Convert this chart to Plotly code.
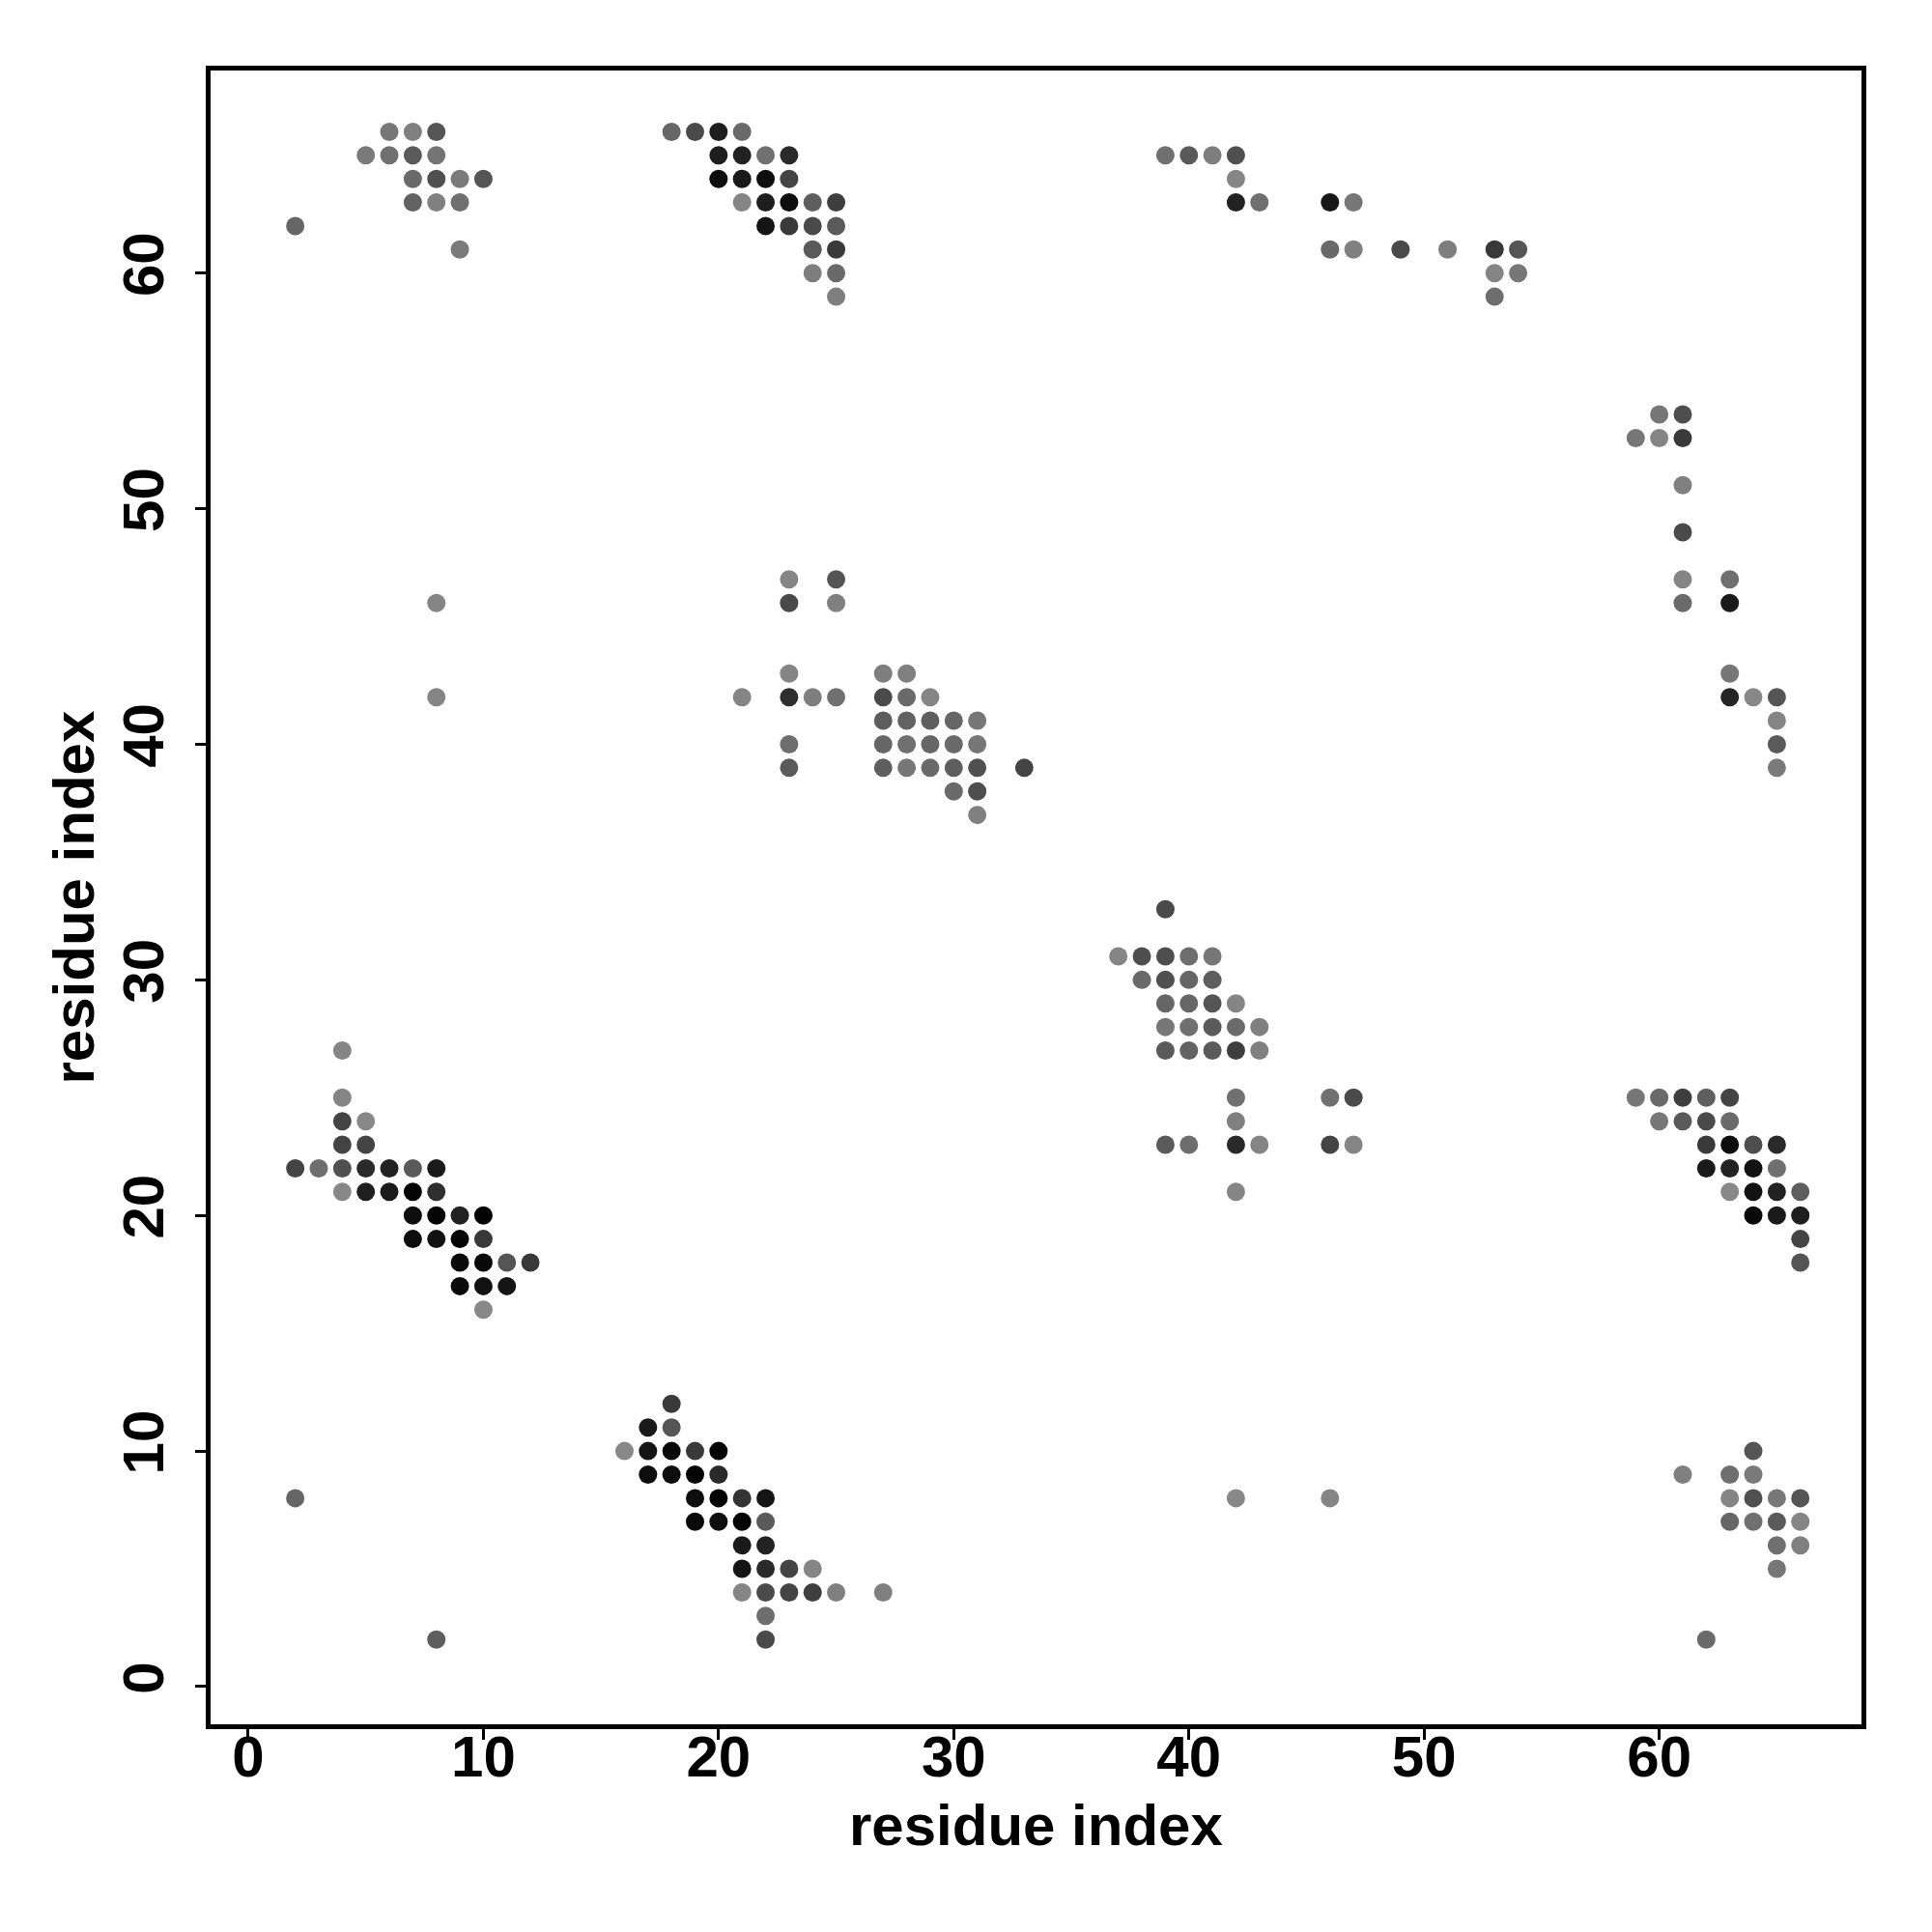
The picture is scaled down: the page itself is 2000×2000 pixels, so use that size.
import plotly.graph_objects as go

# Contact map: (residue i, residue j, level) ; level = grey level read (0 = black, 140 = light grey)
top_left = [(6,66,119),(7,66,128),(8,66,85),
            (5,65,122),(6,65,112),(7,65,90),(8,65,116),
            (7,64,106),(8,64,80),(9,64,122),(10,64,85),
            (7,63,98),(8,63,128),(9,63,112),
            (2,62,102),(9,61,122)]
top_mid = [(18,66,102),(19,66,74),(20,66,30),(21,66,106),
           (20,65,30),(21,65,34),(22,65,112),(23,65,42),
           (20,64,14),(21,64,26),(22,64,14),(23,64,68),
           (21,63,133),(22,63,30),(23,63,14),(24,63,94),(25,63,62),
           (22,62,21),(23,62,58),(24,62,74),(25,62,90),
           (24,61,90),(25,61,58),(24,60,126),(25,60,106),(25,59,126)]
top_right = [(39,65,112),(40,65,90),(41,65,126),(42,65,80),
             (42,64,134),
             (42,63,34),(43,63,112),(46,63,24),(47,63,119),
             (46,61,106),(47,61,128),(49,61,74),(51,61,126),(53,61,56),(54,61,85),
             (53,60,133),(54,60,119),(53,59,110)]
right_upper = [(60,54,119),(61,54,78),
               (59,53,119),(60,53,133),(61,53,58),
               (61,51,128),(61,49,74),
               (61,47,133),(63,47,112),
               (61,46,106),(63,46,26),
               (63,43,119),
               (63,42,37),(64,42,136),(65,42,85),
               (65,41,133),(65,40,90),(65,39,122)]
middle = [(8,46,133),(8,42,133),
          (23,47,133),(25,47,85),
          (23,46,74),(25,46,128),
          (23,43,133),(27,43,126),(28,43,128),
          (21,42,133),(23,42,46),(24,42,126),(25,42,112),(27,42,74),(28,42,106),(29,42,133),
          (27,41,94),(28,41,98),(29,41,94),(30,41,102),(31,41,119),
          (23,40,110),(27,40,102),(28,40,112),(29,40,102),(30,40,106),(31,40,119),
          (23,39,90),(27,39,94),(28,39,119),(29,39,106),(30,39,94),(31,39,80),(33,39,68),
          (30,38,106),(31,38,78),(31,37,128)]
center = [(39,33,74),
          (37,31,133),(38,31,78),(39,31,78),(40,31,110),(41,31,119),
          (38,30,106),(39,30,80),(40,30,102),(41,30,94),
          (39,29,102),(40,29,102),(41,29,85),(42,29,133),
          (39,28,119),(40,28,112),(41,28,90),(42,28,106),(43,28,128),
          (39,27,90),(40,27,98),(41,27,90),(42,27,62),(43,27,128),
          (42,25,112),(46,25,112),(47,25,74),
          (42,24,128),
          (39,23,90),(40,23,110),(42,23,42),(43,23,133),(46,23,68),(47,23,133),
          (42,21,133)]
left_lower = [(4,27,133),(4,25,133),
              (4,24,68),(5,24,136),
              (4,23,68),(5,23,68),
              (2,22,68),(3,22,110),(4,22,80),(5,22,42),(6,22,34),(7,22,90),(8,22,26),
              (4,21,136),(5,21,30),(6,21,26),(7,21,5),(8,21,46),
              (7,20,14),(8,20,5),(9,20,34),(10,20,3),
              (7,19,14),(8,19,18),(9,19,5),(10,19,56),
              (9,18,10),(10,18,10),(11,18,85),(12,18,56),
              (9,17,10),(10,17,18),(11,17,21),
              (10,16,136)]
lower = [(18,12,58),
         (17,11,26),(18,11,85),
         (16,10,136),(17,10,21),(18,10,10),(19,10,58),(20,10,3),
         (17,9,14),(18,9,14),(19,9,5),(20,9,42),
         (19,8,14),(20,8,3),(21,8,51),(22,8,21),
         (19,7,10),(20,7,14),(21,7,3),(22,7,90),
         (21,6,26),(22,6,34),
         (21,5,21),(22,5,42),(23,5,68),(24,5,133),
         (21,4,133),(22,4,74),(23,4,68),(24,4,62),(25,4,128),(27,4,128),
         (22,3,110),(22,2,74),
         (2,8,102),(8,2,94),(42,8,136),(46,8,133)]
right_lower = [(59,25,119),(60,25,106),(61,25,62),(62,25,94),(63,25,68),
               (60,24,119),(61,24,90),(62,24,74),(63,24,106),
               (62,23,58),(63,23,14),(64,23,78),(65,23,42),
               (62,22,26),(63,22,34),(64,22,18),(65,22,112),
               (63,21,136),(64,21,18),(65,21,34),(66,21,94),
               (64,20,10),(65,20,26),(66,20,30),
               (66,19,68),(66,18,85)]
right_bottom = [(64,10,85),
                (61,9,128),(63,9,110),(64,9,122),
                (63,8,133),(64,8,80),(65,8,119),(66,8,85),
                (63,7,102),(64,7,112),(65,7,90),(66,7,133),
                (65,6,112),(66,6,128),(65,5,119),(62,2,106)]

clusters = [top_left, top_mid, top_right, right_upper, middle, center,
            left_lower, lower, right_lower, right_bottom]
pts = [p for c in clusters for p in c]
res_i = [p[0] for p in pts]
res_j = [p[1] for p in pts]
level = [p[2] for p in pts]

tick_vals = [0, 10, 20, 30, 40, 50, 60]

fig = go.Figure(go.Scatter(
    x=res_i, y=res_j, mode="markers",
    marker=dict(size=19, color=level, cmin=0, cmax=140,
                colorscale=[[0, "rgb(0,0,0)"], [1, "rgb(140,140,140)"]],
                line=dict(width=0), showscale=False),
    hoverinfo="x+y"))

font_fam = "Liberation Sans, Arial, sans-serif"
axis_common = dict(range=[-1.6, 68.6], tickvals=tick_vals, ticks="outside",
                   ticklen=11, tickwidth=3, tickcolor="black",
                   showline=True, linewidth=5, linecolor="black", mirror=True,
                   showgrid=False, zeroline=False,
                   tickfont=dict(family=font_fam, size=60, color="black", weight="bold"))

fig.update_layout(
    width=2000, height=2000,
    margin=dict(l=210, r=81, t=65, b=223),
    paper_bgcolor="white", plot_bgcolor="white",
    showlegend=False,
    xaxis=dict(**axis_common, ticklabelstandoff=-34),
    yaxis=dict(**axis_common, tickangle=-90, ticklabelstandoff=9),
    annotations=[
        dict(text="residue index", xref="paper", yref="paper", x=0.5, y=-0.061,
             xanchor="center", yanchor="middle", showarrow=False,
             font=dict(family=font_fam, size=60, color="black", weight="bold")),
        dict(text="residue index", xref="paper", yref="paper", x=-0.0828, y=0.5,
             xanchor="center", yanchor="middle", showarrow=False, textangle=-90,
             font=dict(family=font_fam, size=60, color="black", weight="bold")),
    ])

fig.write_html("out.html")
